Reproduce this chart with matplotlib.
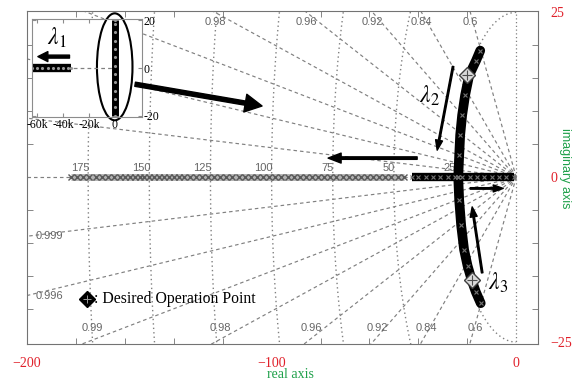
import numpy as np
import matplotlib
matplotlib.use("Agg")
import matplotlib.pyplot as plt
from matplotlib.patches import Ellipse, FancyArrowPatch

plt.rcParams['mathtext.fontset'] = 'stix'

# --- grid values (damping ratios and natural frequencies) ---
zetas = [0.6, 0.84, 0.92, 0.96, 0.98, 0.99, 0.996, 0.999]
top_labels = ['0.98', '0.96', '0.92', '0.84', '0.6']
bottom_labels = ['0.99', '0.98', '0.96', '0.92', '0.84', '0.6']
left_labels = ['0.999', '0.996']
wn_values = [25, 50, 75, 100, 125, 150, 175]

# --- root locus samples ---
lam1_re = [-182, -179.5, -177, -174.5, -172, -169.5, -167, -164.5, -162, -160,
           -158, -156, -154, -152, -150, -148, -146, -144, -142, -140, -138,
           -136, -133.5, -131, -128.5, -126, -123.5, -121, -118.5, -116,
           -113.5, -111, -108.5, -106, -103.5, -101, -98.5, -96, -93.5, -91,
           -88.5, -86, -83.5, -81, -78.5, -76, -73.5, -71, -68.5, -66, -63.5,
           -61, -58.5, -56, -53.5, -51, -48.5, -46]
fast_re = [-42.5, -40, -37, -34, -31, -28, -25, -22, -19, -16, -13, -10, -7, -4, -1]
lam2_x = [-14.7, -16.4, -19.2, -20.9, -22.1, -22.9, -23.3, -23.7]
lam2_y = [19.2, 17.7, 15.5, 12.4, 9.4, 6.4, 3.3, 0.0]
lam3_x = [-23.7, -23.3, -22.5, -21.3, -19.9, -18.2, -16.5, -14.5]
lam3_y = [0.0, -3.5, -7.3, -11.0, -13.4, -15.6, -17.4, -19.1]
desired_x = [-20.0, -18.2]
desired_y = [15.5, -15.6]

inset_bar_re = [-64000, -60000, -56000, -52000, -48000, -44000, -40000, -36000, -34000]
inset_im = [-20, -16.5, -13, -9.5, -6, -2.5, 1, 4.5, 8, 11.5, 15, 18.5, 20]

gcol = '0.5'
fig = plt.figure(figsize=(5.75, 3.81), dpi=100)
ax = fig.add_axes([0.047, 0.097, 0.889, 0.874])
ax.set_xlim(-200, 9)
ax.set_ylim(-25.3, 25.2)

# damping lines
for z in zetas:
    th = np.arccos(z)
    for s in (1, -1):
        ax.plot([0, -300 * np.cos(th)], [0, s * 300 * np.sin(th)], color=gcol,
                lw=0.85, ls=(0, (3, 2.5)), zorder=1)
ax.plot([-200, 0], [0, 0], color=gcol, lw=0.85, ls=(0, (3, 2.5)), zorder=1)
ax.plot([0, 0], [-26, 26], color=gcol, lw=0.9, ls=(0, (1, 2)), zorder=1)
# natural frequency circles
t = np.linspace(np.pi / 2, 3 * np.pi / 2, 600)
for wn in wn_values:
    ax.plot(wn * np.cos(t), wn * np.sin(t), color=gcol, lw=1.0, ls=(0, (1, 2.2)), zorder=1)
    ax.text(-wn + 0.5, 0.6, str(wn), color='0.4', fontsize=8, ha='right', va='bottom',
            family='Liberation Sans', zorder=2)

# damping labels
for lab in top_labels:
    th = np.arccos(float(lab))
    ax.text(-25 / np.tan(th), 23.5, lab, color='0.4', fontsize=8, ha='center',
            va='center', family='Liberation Sans', zorder=2)
for lab in bottom_labels:
    th = np.arccos(float(lab))
    ax.text(-25 / np.tan(th) + 2, -22.8, lab, color='0.4', fontsize=8, ha='center',
            va='center', family='Liberation Sans', zorder=2)
for lab in left_labels:
    th = np.arccos(float(lab))
    ax.text(-196.5, -200 * np.tan(th), lab, color='0.4', fontsize=8, ha='left',
            va='center', family='Liberation Sans', zorder=2)

# loci
ax.plot(lam1_re, [0] * len(lam1_re), color='0.7', lw=5, solid_capstyle='butt', zorder=3)
ax.plot(lam1_re, [0] * len(lam1_re), ls='none', marker='x', ms=4, mew=1, color='0.35', zorder=4)
ax.plot(fast_re, [0] * len(fast_re), color='k', lw=6, solid_capstyle='butt', zorder=3)
ax.plot(fast_re, [0] * len(fast_re), ls='none', marker='x', ms=3, mew=0.8, color='0.45', zorder=4)
for bx, by in ((lam2_x, lam2_y), (lam3_x, lam3_y)):
    ax.plot(bx, by, color='k', lw=7, solid_capstyle='round', zorder=3)
    ax.plot(bx, by, ls='none', marker='x', ms=3, mew=0.8, color='0.45', zorder=4)
ax.plot(desired_x, desired_y, ls='none', marker='D', ms=8, mfc='0.85', mec='0.25', mew=1, zorder=5)
ax.plot(desired_x, desired_y, ls='none', marker='+', ms=7, mew=0.8, color='0.3', zorder=6)

# legend-like note
ax.plot([-175.5], [-18.5], ls='none', marker='D', ms=8, mfc='k', mec='k', zorder=5)
ax.plot([-175.5], [-18.5], ls='none', marker='+', ms=6, mew=0.7, color='0.6', zorder=6)
ax.text(-172.5, -18.5, ': Desired Operation Point', fontsize=11.3, family='Liberation Serif',
        va='center', ha='left', zorder=6)

# lambda labels
ax.text(-35.5, 12.4, r'$\lambda_2$', fontsize=17, ha='center', va='center', zorder=6)
ax.text(-7.5, -16.0, r'$\lambda_3$', fontsize=17, ha='center', va='center', zorder=6)

# ticks / frame
for sp in ax.spines.values():
    sp.set_color('0.45')
ax.set_xticks([-200, -100, 0])
ax.set_xticks([-180, -160, -140, -120, -80, -60, -40, -20], minor=True)
ax.set_yticks([-25, 0, 25])
ax.set_yticks([-20, -15, -10, -5, 5, 10, 15, 20], minor=True)
ax.tick_params(which='both', direction='in', color='0.45', top=True, right=True,
               labelleft=False, labelright=True)
ax.tick_params(which='major', length=0, pad=9)
ax.tick_params(which='minor', length=4)
for lab in ax.get_xticklabels() + ax.get_yticklabels():
    lab.set_color('#e0202a')
    lab.set_fontsize(10)
    lab.set_family('Liberation Serif')
fig.text(290 / 575, 1 - 375 / 381, 'real axis', color='#1fa04a', fontsize=10,
         family='Liberation Serif', ha='center', va='center')
fig.text(565 / 575, 1 - 168 / 381, 'imaginary axis', color='#1fa04a', fontsize=9,
         family='Liberation Sans', ha='center', va='center', rotation=270)


def arrow(p0, p1, hl, hw, tw, trans):
    s = 10 * 100 / 72
    style = f'simple,head_length={hl / s},head_width={hw / s},tail_width={tw / s}'
    a = FancyArrowPatch(p0, p1, arrowstyle=style, mutation_scale=10, color='k',
                        transform=trans, shrinkA=0, shrinkB=0, zorder=10)
    fig.add_artist(a)


arrow((-40.5, 2.9), (-76.9, 2.9), 13, 10, 2.5, ax.transData)
arrow((-25.8, 16.8), (-32.3, 4.1), 10, 7, 1.5, ax.transData)
arrow((-13.9, -14.5), (-18.0, -4.5), 10, 7, 1.5, ax.transData)
arrow((-18.8, -1.7), (-5.3, -1.7), 10, 7, 1.5, ax.transData)

# inset
axi = fig.add_axes([0.0557, 0.693, 0.191, 0.257])
axi.set_facecolor('white')
axi.set_xlim(-64000, 21000)
axi.set_ylim(-20.6, 20.6)
axi.plot([-64000, 0], [0, 0], color=gcol, lw=0.9, ls=(0, (3, 2.5)))
axi.plot(inset_bar_re, [0] * len(inset_bar_re), color='k', lw=6, solid_capstyle='butt')
axi.plot(inset_bar_re, [0] * len(inset_bar_re), ls='none', marker='.', ms=2.5, color='0.6')
axi.plot([0] * len(inset_im), inset_im, color='k', lw=5, solid_capstyle='butt')
axi.plot([0] * len(inset_im), inset_im, ls='none', marker='.', ms=2.5, color='0.6')
axi.add_patch(Ellipse((0, 0.5), 27500, 45, fill=False, ec='k', lw=1.5, clip_on=False))
axi.text(-44600, 12.8, r'$\lambda_1$', fontsize=17, ha='center', va='center')
for sp in axi.spines.values():
    sp.set_color('0.55')
axi.set_xticks([-60000, -40000, -20000, 0])
axi.set_xticklabels(['-60k', '-40k', '-20k', '0'])
axi.set_yticks([-20, 0, 20])
axi.set_yticklabels(['-20', '0', '20'])
axi.tick_params(direction='in', length=3, color='0.55', pad=1.5, labelsize=8.5,
                labelleft=False, labelright=True, right=True, top=True)
for lab in axi.get_xticklabels() + axi.get_yticklabels():
    lab.set_family('Liberation Serif')
arrow((-35000, 4.8), (-59500, 4.8), 10, 10, 3, axi.transData)
arrow((-155.8, 14.1), (-103.9, 10.8), 17, 18, 4.2, ax.transData)

fig.savefig('out.png', dpi=100)
